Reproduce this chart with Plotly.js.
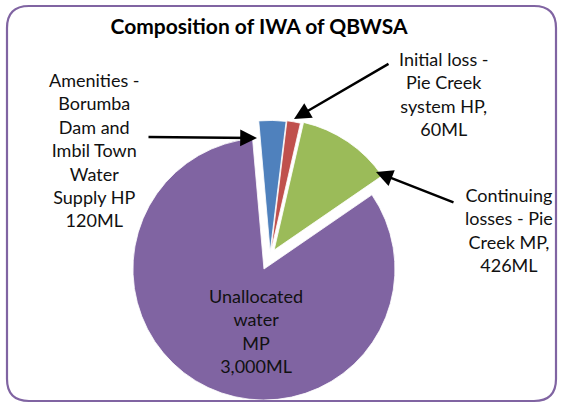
<!DOCTYPE html>
<html>
<head>
<meta charset="utf-8">
<script src="https://cdn.plot.ly/plotly-3.0.1.min.js"></script>
<style>html,body{margin:0;padding:0;background:#fff;}#chart{width:563px;height:404px;}</style>
</head>
<body>
<div id="chart"></div>
<script>
// ---- data ----
var categories = [
  "Amenities - Borumba Dam and Imbil Town Water Supply HP",
  "Initial loss - Pie Creek system HP",
  "Continuing losses - Pie Creek MP",
  "Unallocated water MP"
];
var valuesML = [120, 60, 426, 3000];
var labelTexts = [
  "Amenities -<br>Borumba<br>Dam and<br>Imbil Town<br>Water<br>Supply HP<br>120ML",
  "Initial loss -<br>Pie Creek<br>system HP,<br>60ML",
  "Continuing<br>losses - Pie<br>Creek MP,<br>426ML",
  "Unallocated<br>water<br>MP<br>3,000ML"
];
var sliceColors = ["#4f81bd", "#c0504d", "#9bbb59", "#8064a2"];
var titleText = "Composition of IWA of QBWSA";

// ---- layout helpers (pixel -> paper) ----
var W = 563, H = 404;
function px(x){ return x / W; }
function py(y){ return 1 - y / H; }

var pulls = [0.035, 0.04, 0.055, 0.11];
var R = 131, CX = 270.1, CY = 256;
var half = R * (1 + Math.max.apply(null, pulls));

var trace = {
  type: "pie",
  labels: categories,
  values: valuesML,
  marker: {colors: sliceColors, line: {color: "#ffffff", width: 0.8}},
  sort: false,
  direction: "clockwise",
  rotation: -5,
  pull: pulls,
  textinfo: "none",
  hoverinfo: "none",
  showlegend: false,
  domain: {x: [px(CX - half), px(CX + half)], y: [py(CY + half), py(CY - half)]}
};

// label positions (pixel centers) and arrows (head, tail)
var labelPos = [[94, 150], [444, 94], [509, 230], [256, 331]];
var arrows = [
  {head: [257, 138], tail: [147, 137]},
  {head: [294, 119], tail: [390, 63]},
  {head: [376, 172], tail: [455, 203]}
];

var annotations = [];
labelTexts.forEach(function(t, i){
  annotations.push({
    xref: "paper", yref: "paper",
    x: px(labelPos[i][0]), y: py(labelPos[i][1]),
    xanchor: "center", yanchor: "middle",
    text: t, showarrow: false, align: "center",
    font: {family: "Lato, 'Open Sans', sans-serif", size: 18, color: "#111"}
  });
});
arrows.forEach(function(a){
  annotations.push({
    xref: "paper", yref: "paper",
    x: px(a.head[0]), y: py(a.head[1]),
    ax: a.tail[0] - a.head[0], ay: a.tail[1] - a.head[1],
    text: "", showarrow: true,
    arrowhead: 2, arrowsize: 1.4, arrowwidth: 2.4, arrowcolor: "#000",
    standoff: 0, startstandoff: 0
  });
});

// rounded border
var x0 = 7, y0 = 6, x1 = 556, y1 = 401, rr = 22;
var pth = "M " + px(x0 + rr) + " " + py(y0) +
  " L " + px(x1 - rr) + " " + py(y0) +
  " Q " + px(x1) + " " + py(y0) + " " + px(x1) + " " + py(y0 + rr) +
  " L " + px(x1) + " " + py(y1 - rr) +
  " Q " + px(x1) + " " + py(y1) + " " + px(x1 - rr) + " " + py(y1) +
  " L " + px(x0 + rr) + " " + py(y1) +
  " Q " + px(x0) + " " + py(y1) + " " + px(x0) + " " + py(y1 - rr) +
  " L " + px(x0) + " " + py(y0 + rr) +
  " Q " + px(x0) + " " + py(y0) + " " + px(x0 + rr) + " " + py(y0) + " Z";

var layout = {
  width: W, height: H,
  margin: {l: 0, r: 0, t: 0, b: 0},
  paper_bgcolor: "#ffffff",
  title: {
    text: "<b>" + titleText + "</b>",
    x: px(259), xanchor: "center",
    y: py(27), yanchor: "middle",
    xref: "paper", yref: "paper",
    font: {family: "Lato, 'Open Sans', sans-serif", size: 21, color: "#000"}
  },
  annotations: annotations,
  shapes: [{type: "path", xref: "paper", yref: "paper", path: pth,
            line: {color: "#8064a2", width: 2.2}, fillcolor: "rgba(0,0,0,0)", layer: "above"}]
};

Plotly.newPlot("chart", [trace], layout, {displayModeBar: false, staticPlot: true});
</script>
</body>
</html>
